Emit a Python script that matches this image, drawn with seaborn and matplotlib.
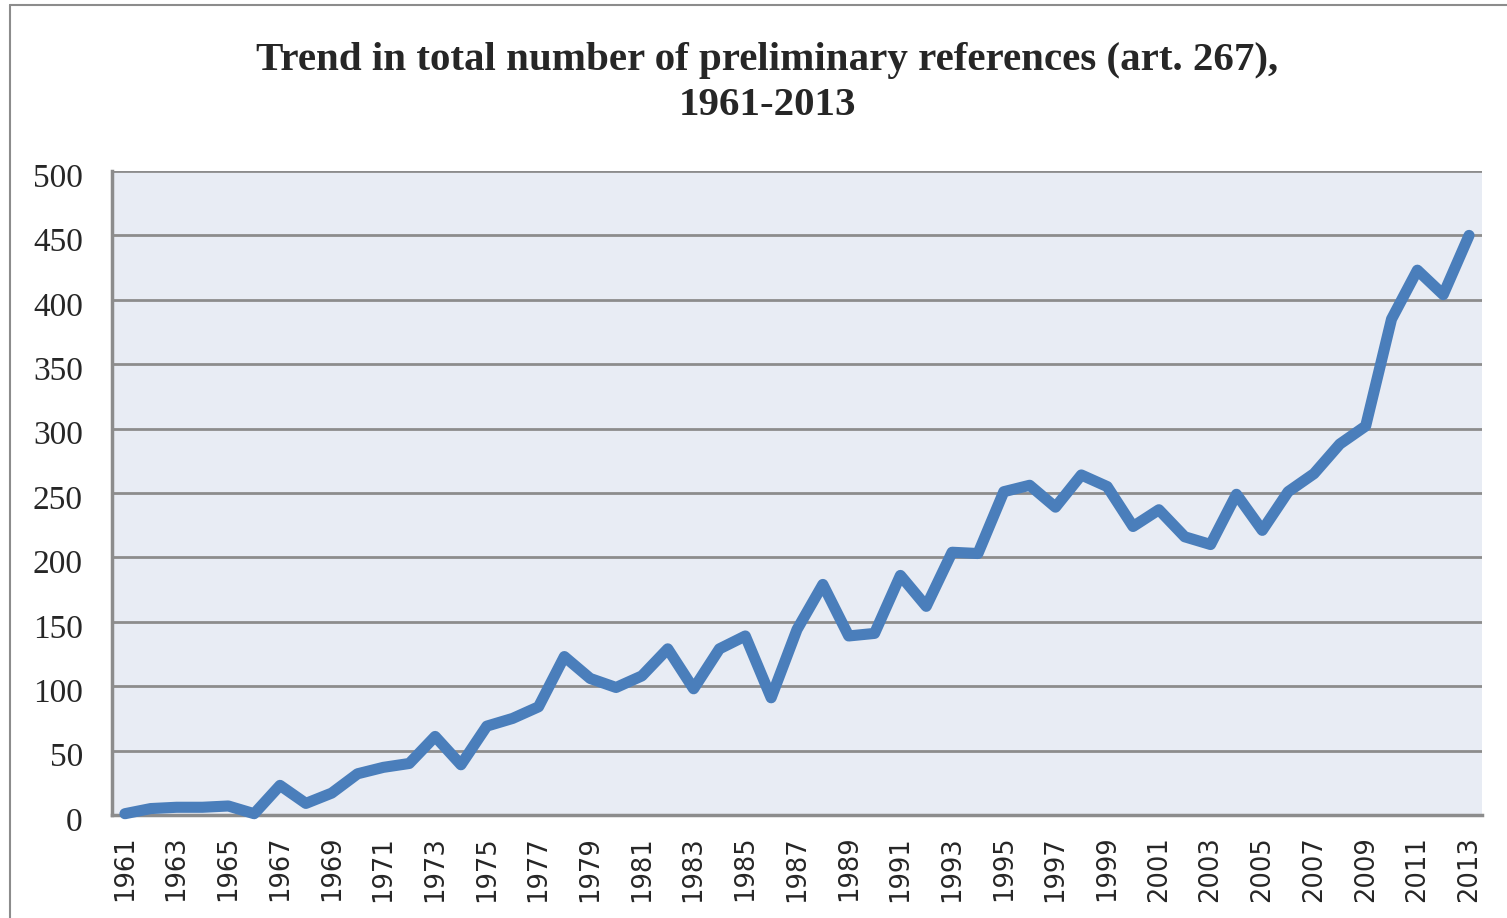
import numpy as np
import pandas as pd
import seaborn as sns
import matplotlib.pyplot as plt
import matplotlib.transforms as mtransforms
from matplotlib.lines import Line2D

# Datos: remisiones prejudiciales por año
anios = list(range(1961, 2014))
remisiones = [
    1, 5, 6, 6, 7, 1, 23, 9, 17, 32,
    37, 40, 61, 39, 69, 75, 84, 123, 106, 99,
    108, 129, 98, 129, 139, 91, 144, 179, 139, 141,
    186, 162, 204, 203, 251, 256, 239, 264, 255, 224,
    237, 216, 210, 249, 221, 251, 265, 288, 302, 385,
    423, 404, 450,
]
ticks_y = [0, 50, 100, 150, 200, 250, 300, 350, 400, 450, 500]
titulo = "Trend in total number of preliminary references (art. 267),\n1961-2013"

df = pd.DataFrame({"anio": [str(a) for a in anios], "remisiones": remisiones})

sns.set_style("white")
fig = plt.figure(figsize=(15.07, 9.18), dpi=100)
ax = fig.add_axes([112 / 1507, 103 / 918, 1370 / 1507, 644 / 918])
ax.set_facecolor("#E8ECF4")

sns.lineplot(data=df, x="anio", y="remisiones", ax=ax, color="#4A7EBB",
             linewidth=8, solid_joinstyle="round", solid_capstyle="round",
             zorder=3, clip_on=False)

ax.set_ylim(0, 500)
ax.set_xlim(-0.5, len(anios) - 0.5)
ax.set_yticks(ticks_y)
ax.set_yticklabels([str(t) for t in ticks_y], fontsize=24, family="Liberation Serif")
ax.set_xticks(range(0, len(anios), 2))
ax.set_xticklabels([str(a) for a in anios[::2]], rotation=90, fontsize=18.5,
                   family="DejaVu Sans")
ax.tick_params(axis="y", length=0, pad=21)
ax.tick_params(axis="x", length=0, pad=15)
ax.set_xlabel("")
ax.set_ylabel("")

# las etiquetas del eje y quedan un poco por debajo de la línea
desplaza = mtransforms.ScaledTranslation(0, -4 / 100, fig.dpi_scale_trans)
for lbl in ax.get_yticklabels():
    lbl.set_transform(lbl.get_transform() + desplaza)

ax.yaxis.grid(True, color="#8C8C8C", linewidth=2)
ax.set_axisbelow(True)
for lado in ["top", "right"]:
    ax.spines[lado].set_visible(False)
for lado in ["left", "bottom"]:
    ax.spines[lado].set_color("#8C8C8C")
    ax.spines[lado].set_linewidth(2.5)

fig.text(767 / 1507, 1 - 83 / 918, titulo, ha="center", va="center",
         fontsize=29.5, fontweight="bold", family="Liberation Serif",
         linespacing=1.3)

# Marco exterior del gráfico
fig.add_artist(Line2D([10 / 1507, 10 / 1507], [0, 1 - 5 / 918],
                      transform=fig.transFigure, color="#8C8C8C", linewidth=1.5))
fig.add_artist(Line2D([10 / 1507, 1], [1 - 5 / 918, 1 - 5 / 918],
                      transform=fig.transFigure, color="#8C8C8C", linewidth=1.5))

fig.savefig("out.png", dpi=100)
